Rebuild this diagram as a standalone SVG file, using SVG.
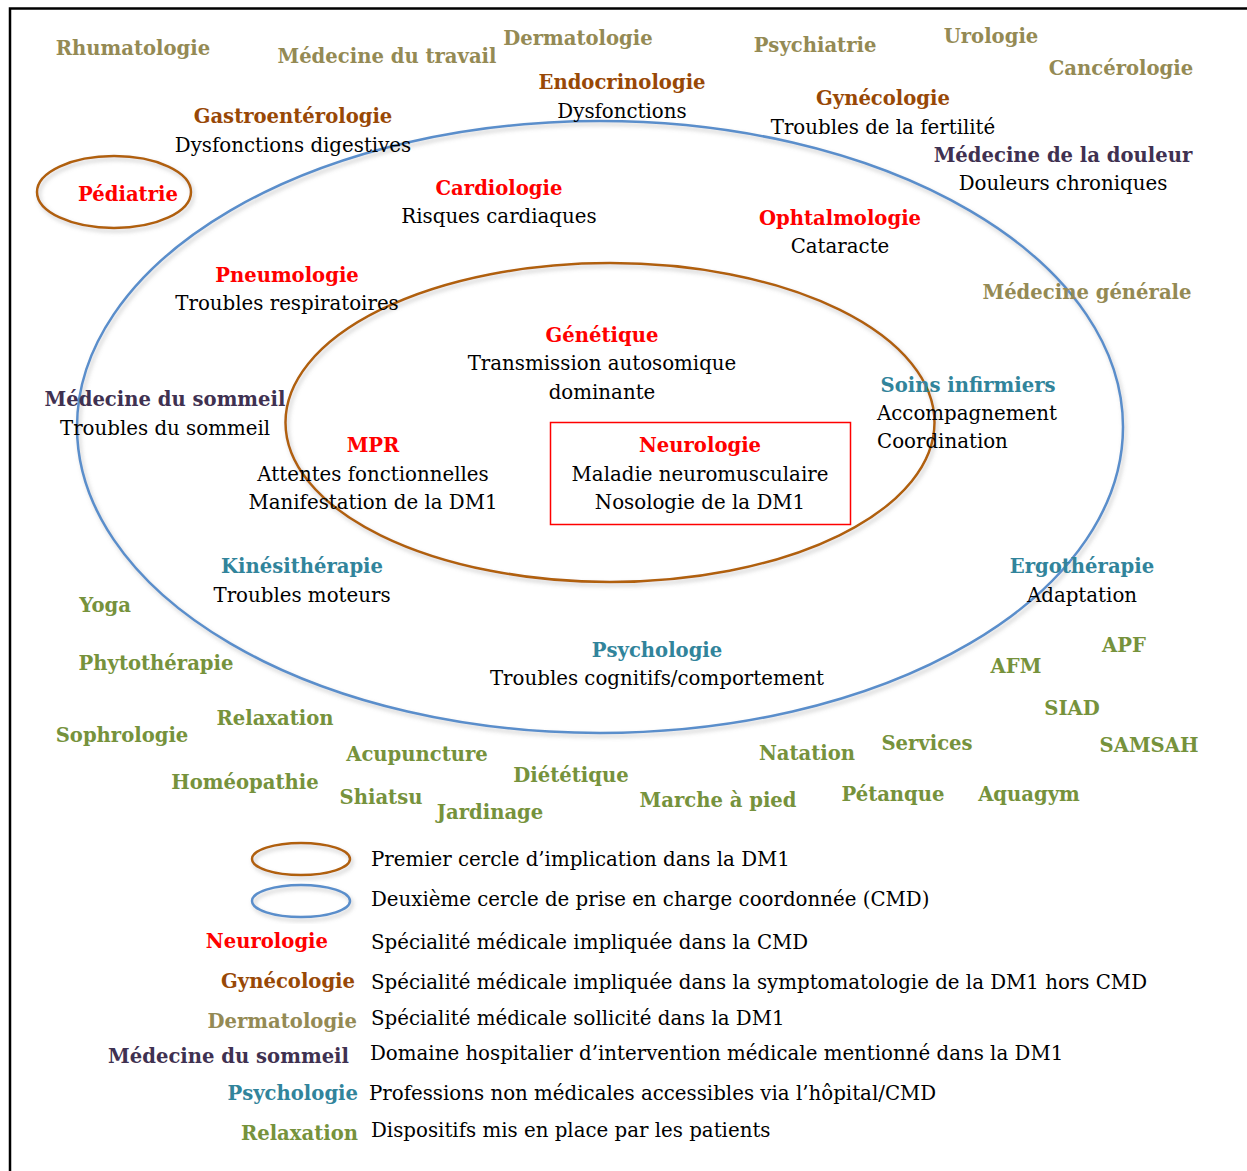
<svg xmlns="http://www.w3.org/2000/svg" width="1247" height="1171" viewBox="0 0 1247 1171">
<style>
text{font-family:"DejaVu Serif","Liberation Serif",serif;}
.b{font-weight:bold;font-size:19.6px;text-anchor:middle;}
.t{font-size:19.8px;fill:#000;text-anchor:middle;}
.l{font-size:19.8px;fill:#000;}
.olive{fill:#948A54;}
.brown{fill:#984806;}
.red{fill:#FF0000;}
.purple{fill:#3F3151;}
.teal{fill:#31849B;}
.green{fill:#76923C;}
.eb{fill:none;stroke:#B0600E;stroke-width:2.5;filter:url(#sh);}
.eu{fill:none;stroke:#5A8ECB;stroke-width:2.5;filter:url(#sh);}
.end{text-anchor:end;}
</style>
<defs>
<filter id="sh" x="-10%" y="-10%" width="120%" height="130%">
<feDropShadow dx="2" dy="3" stdDeviation="2" flood-color="#888" flood-opacity="0.45"/>
</filter>
</defs>
<rect width="1247" height="1171" fill="#fff"/>
<g id="frame" stroke="#000" stroke-width="2.5" fill="none">
<path d="M10 1171 V8.5 H1247"/>
</g>
<g id="circles">
<ellipse id="outer-circle" class="eu" cx="600" cy="427" rx="523" ry="306"/>
<ellipse id="inner-circle" class="eb" cx="610" cy="422.5" rx="324.5" ry="159.5"/>
</g>
<g id="pediatrie"><ellipse class="eb" cx="114" cy="192" rx="77" ry="36" stroke-width="2"/><text class="b red" x="128" y="201">Pédiatrie</text></g>
<g id="rhumatologie"><text class="b olive" x="133" y="55">Rhumatologie</text></g>
<g id="medecine-travail"><text class="b olive" x="387" y="63">Médecine du travail</text></g>
<g id="dermatologie"><text class="b olive" x="578" y="45">Dermatologie</text></g>
<g id="psychiatrie"><text class="b olive" x="815" y="52">Psychiatrie</text></g>
<g id="urologie"><text class="b olive" x="991" y="43">Urologie</text></g>
<g id="cancerologie"><text class="b olive" x="1121" y="75">Cancérologie</text></g>
<g id="endocrinologie"><text class="b brown" x="622" y="89">Endocrinologie</text><text class="t" x="622" y="118">Dysfonctions</text></g>
<g id="gynecologie"><text class="b brown" x="883" y="105">Gynécologie</text><text class="t" x="883" y="134">Troubles de la fertilité</text></g>
<g id="gastroenterologie"><text class="b brown" x="293" y="123">Gastroentérologie</text><text class="t" x="293" y="152">Dysfonctions digestives</text></g>
<g id="medecine-douleur"><text class="b purple" x="1063" y="162">Médecine de la douleur</text><text class="t" x="1063" y="190">Douleurs chroniques</text></g>
<g id="cardiologie"><text class="b red" x="499" y="195">Cardiologie</text><text class="t" x="499" y="223">Risques cardiaques</text></g>
<g id="ophtalmologie"><text class="b red" x="840" y="225">Ophtalmologie</text><text class="t" x="840" y="253">Cataracte</text></g>
<g id="pneumologie"><text class="b red" x="287" y="282">Pneumologie</text><text class="t" x="287" y="310">Troubles respiratoires</text></g>
<g id="medecine-generale"><text class="b olive" x="1087" y="299">Médecine générale</text></g>
<g id="genetique"><text class="b red" x="602" y="342">Génétique</text><text class="t" x="602" y="370">Transmission autosomique</text><text class="t" x="602" y="399">dominante</text></g>
<g id="medecine-sommeil"><text class="b purple" x="165" y="406">Médecine du sommeil</text><text class="t" x="165" y="435">Troubles du sommeil</text></g>
<g id="soins-infirmiers"><text class="b teal" x="968" y="392">Soins infirmiers</text><text class="l" x="877" y="420">Accompagnement</text><text class="l" x="877" y="448">Coordination</text></g>
<g id="mpr"><text class="b red" x="373" y="452">MPR</text><text class="t" x="373" y="481">Attentes fonctionnelles</text><text class="t" x="373" y="509">Manifestation de la DM1</text></g>
<g id="neurologie"><rect x="550.5" y="422.5" width="300" height="102" fill="none" stroke="#FF0000" stroke-width="1.5"/><text class="b red" x="700" y="452">Neurologie</text><text class="t" x="700" y="481">Maladie neuromusculaire</text><text class="t" x="700" y="509">Nosologie de la DM1</text></g>
<g id="kinesitherapie"><text class="b teal" x="302" y="573">Kinésithérapie</text><text class="t" x="302" y="602">Troubles moteurs</text></g>
<g id="ergotherapie"><text class="b teal" x="1082" y="573">Ergothérapie</text><text class="t" x="1082" y="602">Adaptation</text></g>
<g id="psychologie"><text class="b teal" x="657" y="657">Psychologie</text><text class="t" x="657" y="685">Troubles cognitifs/comportement</text></g>
<g id="yoga"><text class="b green" x="105" y="612">Yoga</text></g>
<g id="phytotherapie"><text class="b green" x="156" y="670">Phytothérapie</text></g>
<g id="apf"><text class="b green" x="1124" y="652">APF</text></g>
<g id="afm"><text class="b green" x="1016" y="673">AFM</text></g>
<g id="siad"><text class="b green" x="1072" y="715">SIAD</text></g>
<g id="relaxation"><text class="b green" x="275" y="725">Relaxation</text></g>
<g id="sophrologie"><text class="b green" x="122" y="742">Sophrologie</text></g>
<g id="samsah"><text class="b green" x="1149" y="752">SAMSAH</text></g>
<g id="services"><text class="b green" x="927" y="750">Services</text></g>
<g id="natation"><text class="b green" x="807" y="760">Natation</text></g>
<g id="acupuncture"><text class="b green" x="417" y="761">Acupuncture</text></g>
<g id="dietetique"><text class="b green" x="571" y="782">Diététique</text></g>
<g id="homeopathie"><text class="b green" x="245" y="789">Homéopathie</text></g>
<g id="shiatsu"><text class="b green" x="381" y="804">Shiatsu</text></g>
<g id="marche"><text class="b green" x="718" y="807">Marche à pied</text></g>
<g id="petanque"><text class="b green" x="893" y="801">Pétanque</text></g>
<g id="aquagym"><text class="b green" x="1029" y="801">Aquagym</text></g>
<g id="jardinage"><text class="b green" x="490" y="819">Jardinage</text></g>
<g id="legend">
<ellipse class="eb" cx="301" cy="859" rx="49" ry="16" stroke-width="2"/>
<text class="l" x="371" y="866">Premier cercle d’implication dans la DM1</text>
<ellipse class="eu" cx="301" cy="901" rx="49" ry="16" stroke-width="2"/>
<text class="l" x="371" y="906">Deuxième cercle de prise en charge coordonnée (CMD)</text>
<text class="b red end" x="328" y="948">Neurologie</text>
<text class="l" x="371" y="949">Spécialité médicale impliquée dans la CMD</text>
<text class="b brown end" x="355" y="988">Gynécologie</text>
<text class="l" x="371" y="989">Spécialité médicale impliquée dans la symptomatologie de la DM1 hors CMD</text>
<text class="b olive end" x="357" y="1028">Dermatologie</text>
<text class="l" x="371" y="1025">Spécialité médicale sollicité dans la DM1</text>
<text class="b purple end" x="349" y="1063">Médecine du sommeil</text>
<text class="l" x="370" y="1060">Domaine hospitalier d’intervention médicale mentionné dans la DM1</text>
<text class="b teal end" x="358" y="1100">Psychologie</text>
<text class="l" x="369" y="1100">Professions non médicales accessibles via l’hôpital/CMD</text>
<text class="b green end" x="358" y="1140">Relaxation</text>
<text class="l" x="371" y="1137">Dispositifs mis en place par les patients</text>
</g>
</svg>
